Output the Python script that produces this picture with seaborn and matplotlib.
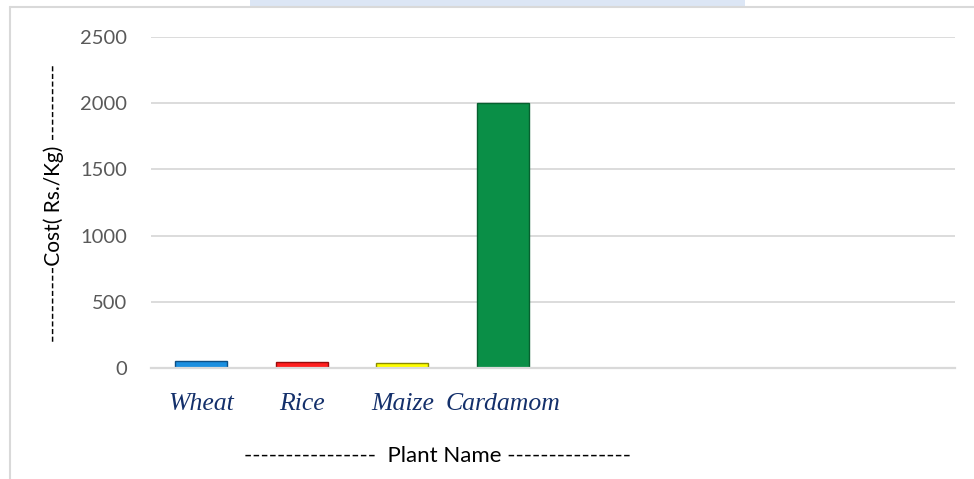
import matplotlib
matplotlib.use("Agg")
import matplotlib.pyplot as plt
import seaborn as sns
import pandas as pd
from matplotlib.lines import Line2D
from matplotlib.patches import Rectangle

# data
plants = ["Wheat", "Rice", "Maize", "Cardamom"]
costs = [50, 42, 40, 2000]
empty_slots = [" ", "  ", "   ", "    "]   # the chart keeps 4 unused category slots
bar_colors = ["#1b8fe0", "#ff1f1f", "#ffff00", "#0a8f47"]
edge_colors = ["#0d4f85", "#9a0b0b", "#8c8c00", "#06602f"]
y_ticks = [0, 500, 1000, 1500, 2000, 2500]

df = pd.DataFrame({"plant": plants, "cost": costs})

sns.set_style("white")
plt.rcParams["font.family"] = ["Lato", "DejaVu Sans"]

W, H = 974, 479
fig = plt.figure(figsize=(W / 100, H / 100), dpi=100)
ax = fig.add_axes([151 / W, 1 - 368 / H, (955 - 151) / W, (368 - 37) / H])

sns.barplot(data=df, x="plant", y="cost", hue="plant", order=plants + empty_slots,
            palette=dict(zip(plants, bar_colors)), width=0.52, saturation=1,
            legend=False, ax=ax)
for patch, ec in zip(ax.patches, edge_colors):
    patch.set_edgecolor(ec)
    patch.set_linewidth(1.0)

ax.set_xlim(-0.5, len(plants) + len(empty_slots) - 0.5)
ax.set_ylim(0, 2500)
ax.set_yticks(y_ticks)
ax.yaxis.grid(True, color="#d9d9d9", lw=1.3)
ax.set_axisbelow(True)
for s in ["left", "top", "right"]:
    ax.spines[s].set_visible(False)
ax.spines["bottom"].set_color("#d9d9d9")
ax.spines["bottom"].set_linewidth(1.6)

ax.tick_params(axis="both", length=0)
ax.tick_params(axis="y", labelsize=14.5, labelcolor="#595959", pad=17)
ax.tick_params(axis="x", pad=18)
for lab in ax.get_xticklabels():
    lab.set_fontfamily("Liberation Serif")
    lab.set_fontstyle("italic")
    lab.set_fontsize(18.5)
    lab.set_color("#14306b")

ax.set_xlabel("")
ax.set_ylabel("")
fig.text(54 / W, 1 - 203 / H, "----------Cost( Rs./Kg) ----------",
         rotation=90, ha="center", va="center", fontsize=15, color="black")
fig.text(437 / W, 1 - 456 / H, "----------------  Plant Name ---------------",
         ha="center", va="center", fontsize=16, color="black")

# frame of the embedded chart
fig.add_artist(Rectangle((250 / W, 1 - 7 / H), (745 - 250) / W, 7 / H,
                         transform=fig.transFigure, color="#dce6f5", lw=0))
fig.add_artist(Line2D([10 / W, 1], [1 - 7 / H, 1 - 7 / H],
                      transform=fig.transFigure, color="#d9d9d9", lw=1.5))
fig.add_artist(Line2D([10 / W, 10 / W], [0, 1 - 7 / H],
                      transform=fig.transFigure, color="#d9d9d9", lw=1.5))

fig.savefig("out.png", dpi=100, facecolor="white")
